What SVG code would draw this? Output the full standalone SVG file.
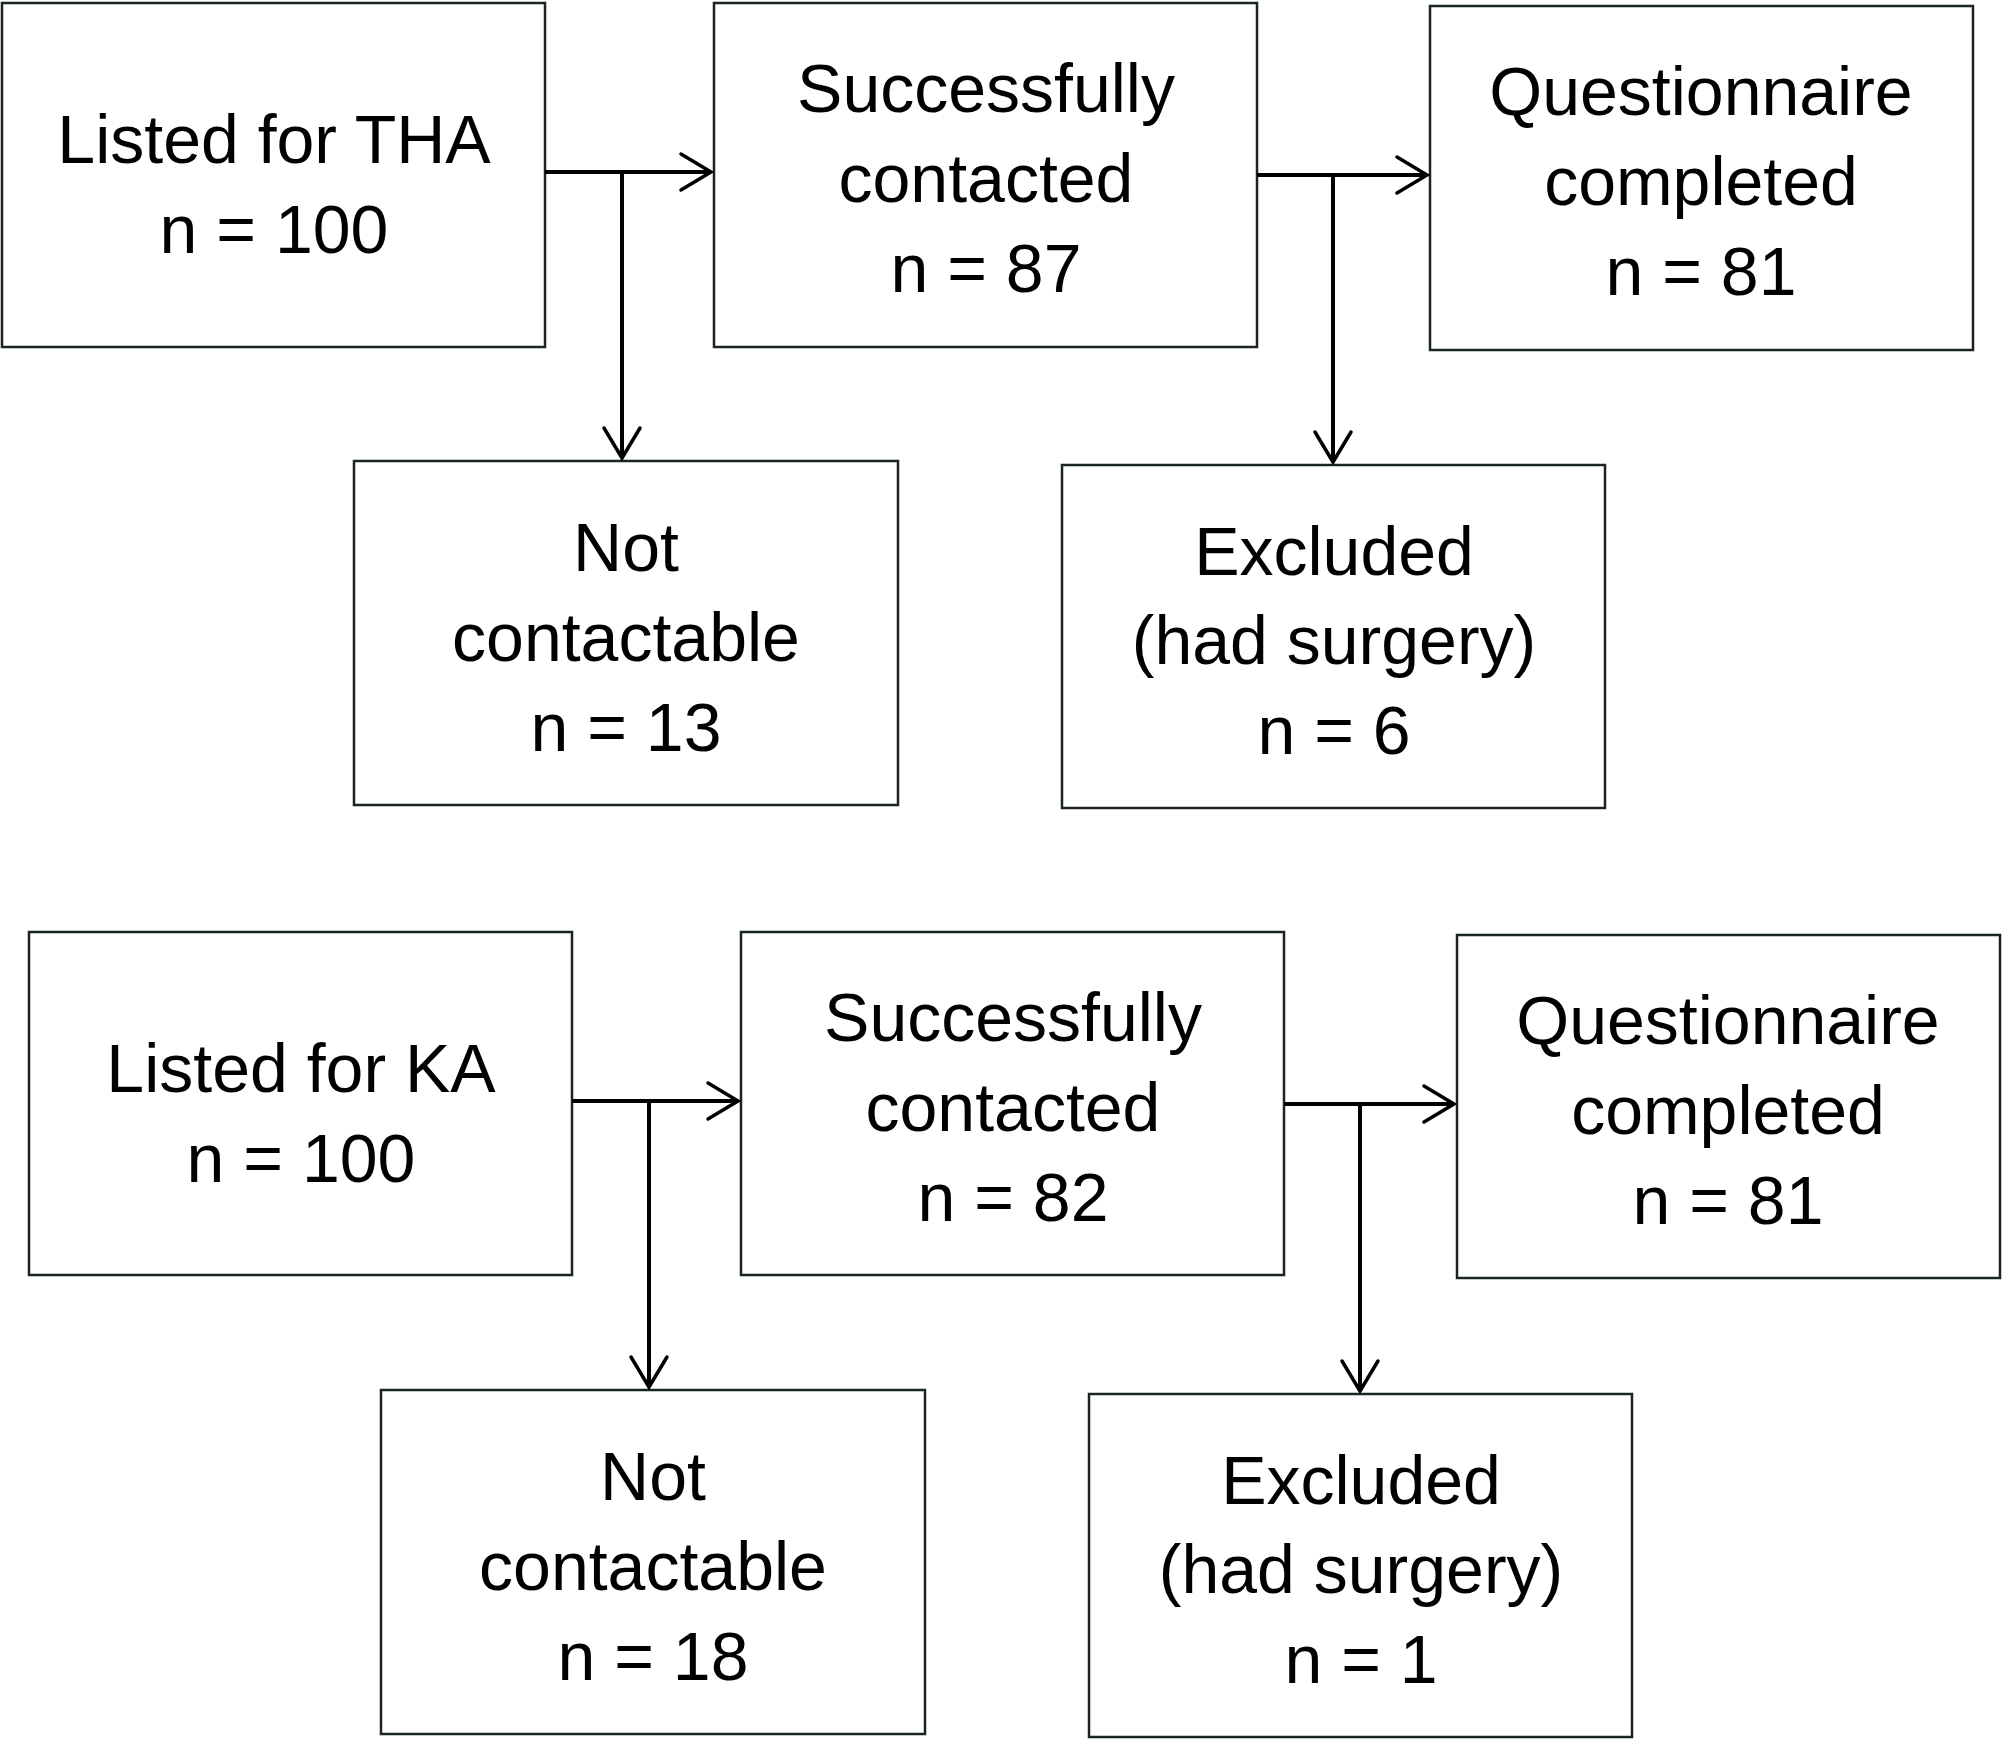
<svg xmlns="http://www.w3.org/2000/svg" width="2002" height="1740" viewBox="0 0 2002 1740">
<style>
.box{fill:#fff;stroke:#1a2424;stroke-width:2.5}
.t{font-family:"Liberation Sans",Arial,sans-serif;font-size:68px;fill:#000;text-anchor:middle}
.c{fill:none;stroke:#000;stroke-width:4}
</style>
<defs>
<marker id="arr" markerUnits="userSpaceOnUse" markerWidth="40" markerHeight="44" viewBox="-34 -22 40 44" refX="0" refY="0" orient="auto">
<path d="M-30,-18 L0,0 L-30,18" fill="none" stroke="#000" stroke-width="3.5" stroke-linecap="round"/>
</marker>
</defs>
<rect width="2002" height="1740" fill="#fff"/>

<g id="tha-listed"><rect class="box" x="2" y="3" width="543" height="344"/>
<text class="t" x="274" y="163">Listed for THA</text><text class="t" x="274" y="253">n = 100</text></g>
<g id="tha-contacted"><rect class="box" x="714" y="3" width="543" height="344"/>
<text class="t" x="986" y="112">Successfully</text><text class="t" x="986" y="202">contacted</text><text class="t" x="986" y="292">n = 87</text></g>
<g id="tha-completed"><rect class="box" x="1430" y="6" width="543" height="344"/>
<text class="t" x="1701" y="115">Questionnaire</text><text class="t" x="1701" y="205">completed</text><text class="t" x="1701" y="295">n = 81</text></g>
<g id="tha-notcontactable"><rect class="box" x="354" y="461" width="544" height="344"/>
<text class="t" x="626" y="571">Not</text><text class="t" x="626" y="661">contactable</text><text class="t" x="626" y="751">n = 13</text></g>
<g id="tha-excluded"><rect class="box" x="1062" y="465" width="543" height="343"/>
<text class="t" x="1334" y="575">Excluded</text><text class="t" x="1334" y="664">(had surgery)</text><text class="t" x="1334" y="754">n = 6</text></g>

<g id="ka-listed"><rect class="box" x="29" y="932" width="543" height="343"/>
<text class="t" x="301" y="1092">Listed for KA</text><text class="t" x="301" y="1182">n = 100</text></g>
<g id="ka-contacted"><rect class="box" x="741" y="932" width="543" height="343"/>
<text class="t" x="1013" y="1041">Successfully</text><text class="t" x="1013" y="1131">contacted</text><text class="t" x="1013" y="1221">n = 82</text></g>
<g id="ka-completed"><rect class="box" x="1457" y="935" width="543" height="343"/>
<text class="t" x="1728" y="1044">Questionnaire</text><text class="t" x="1728" y="1134">completed</text><text class="t" x="1728" y="1224">n = 81</text></g>
<g id="ka-notcontactable"><rect class="box" x="381" y="1390" width="544" height="344"/>
<text class="t" x="653" y="1500">Not</text><text class="t" x="653" y="1590">contactable</text><text class="t" x="653" y="1680">n = 18</text></g>
<g id="ka-excluded"><rect class="box" x="1089" y="1394" width="543" height="343"/>
<text class="t" x="1361" y="1504">Excluded</text><text class="t" x="1361" y="1593">(had surgery)</text><text class="t" x="1361" y="1683">n = 1</text></g>

<g id="connectors">
<line class="c" x1="545" y1="172" x2="711" y2="172" marker-end="url(#arr)"/>
<line class="c" x1="622" y1="172" x2="622" y2="458" marker-end="url(#arr)"/>
<line class="c" x1="1257" y1="175" x2="1427" y2="175" marker-end="url(#arr)"/>
<line class="c" x1="1333" y1="175" x2="1333" y2="462" marker-end="url(#arr)"/>
<line class="c" x1="572" y1="1101" x2="738" y2="1101" marker-end="url(#arr)"/>
<line class="c" x1="649" y1="1101" x2="649" y2="1387" marker-end="url(#arr)"/>
<line class="c" x1="1284" y1="1104" x2="1454" y2="1104" marker-end="url(#arr)"/>
<line class="c" x1="1360" y1="1104" x2="1360" y2="1391" marker-end="url(#arr)"/>
</g>
</svg>
